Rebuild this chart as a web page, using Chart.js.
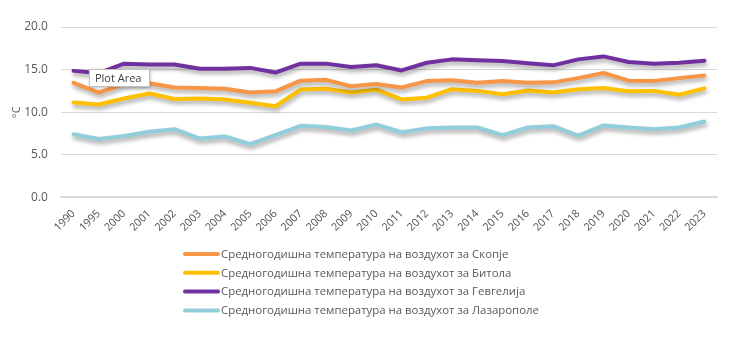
<!DOCTYPE html>
<html>
<head>
<meta charset="utf-8">
<script src="https://cdn.jsdelivr.net/npm/chart.js@4/dist/chart.umd.min.js"></script>
<style>
  html, body { margin: 0; padding: 0; background: #fff; }
  #wrap { width: 738px; height: 352px; position: relative; }
</style>
</head>
<body>
<div id="wrap"><canvas id="c" width="738" height="352"></canvas></div>
<script>
const years = ['1990','1995','2000','2001','2002','2003','2004','2005','2006','2007','2008','2009','2010','2011','2012','2013','2014','2015','2016','2017','2018','2019','2020','2021','2022','2023'];

const skopje = [13.45,12.3,13.3,13.4,12.9,12.85,12.75,12.3,12.45,13.7,13.8,13.05,13.3,12.9,13.65,13.75,13.45,13.65,13.45,13.5,14.0,14.6,13.7,13.65,14.0,14.3];
const bitola = [11.15,10.9,11.6,12.2,11.55,11.6,11.5,11.1,10.7,12.65,12.75,12.3,12.65,11.5,11.7,12.7,12.5,12.1,12.55,12.3,12.7,12.85,12.45,12.5,12.05,12.8];
const gevgelija = [14.85,14.6,15.7,15.6,15.6,15.1,15.1,15.2,14.65,15.7,15.7,15.3,15.5,14.9,15.8,16.2,16.1,16.0,15.75,15.5,16.2,16.55,15.9,15.7,15.8,16.05];
const lazaropole = [7.4,6.85,7.2,7.7,8.0,6.9,7.15,6.25,7.3,8.4,8.25,7.85,8.55,7.65,8.1,8.2,8.2,7.3,8.2,8.35,7.25,8.45,8.2,8.0,8.2,8.9];

const seriesNames = [
  'Средногодишна температура на воздухот за Скопје',
  'Средногодишна температура на воздухот за Битола',
  'Средногодишна температура на воздухот за Гевгелија',
  'Средногодишна температура на воздухот за Лазарополе'
];
const yTicks = [0, 5, 10, 15, 20];
const yTitle = '°C';
const tooltipText = 'Plot Area';

const colors = ['#F79646', '#FFC000', '#7030A0', '#92CDDC'];
const FONT = '"Open Sans", "Liberation Sans", sans-serif';
const TXT = '#595959';

const shadowPlugin = {
  id: 'shadow',
  beforeDatasetDraw(chart) {
    const ctx = chart.ctx;
    ctx.save();
    ctx.shadowColor = 'rgba(0,0,0,0.35)';
    ctx.shadowBlur = 4;
    ctx.shadowOffsetX = 1;
    ctx.shadowOffsetY = 3;
  },
  afterDatasetDraw(chart) {
    chart.ctx.restore();
  }
};

const legendPlugin = {
  id: 'customLegend',
  afterDraw(chart) {
    const ctx = chart.ctx;
    const ds = chart.data.datasets;
    const startX = 185, lineLen = 33, gap = 3, startY = 254, step = 18.8;
    ctx.save();
    ctx.font = '11.4px ' + FONT;
    ctx.textBaseline = 'middle';
    ds.forEach((d, i) => {
      const y = startY + i * step;
      ctx.strokeStyle = d.borderColor;
      ctx.lineWidth = 4;
      ctx.lineCap = 'round';
      ctx.beginPath();
      ctx.moveTo(startX, y);
      ctx.lineTo(startX + lineLen, y);
      ctx.stroke();
      ctx.fillStyle = TXT;
      ctx.fillText(d.label, startX + lineLen + gap, y + 0.5);
    });
    ctx.restore();
  }
};

const tipPlugin = {
  id: 'plotAreaTip',
  afterDraw(chart) {
    const ctx = chart.ctx;
    const a = chart.chartArea;
    const x = a.left + 28, y = a.top + 42, w = 61, h = 18;
    ctx.save();
    ctx.shadowColor = 'rgba(0,0,0,0.25)';
    ctx.shadowBlur = 3;
    ctx.shadowOffsetX = 1;
    ctx.shadowOffsetY = 1;
    ctx.fillStyle = '#ffffff';
    ctx.fillRect(x, y, w, h);
    ctx.restore();
    ctx.save();
    ctx.strokeStyle = '#bfbfbf';
    ctx.lineWidth = 1;
    ctx.strokeRect(x + 0.5, y + 0.5, w - 1, h - 1);
    ctx.fillStyle = '#404040';
    ctx.font = '11px ' + FONT;
    ctx.textBaseline = 'middle';
    ctx.fillText(tooltipText, x + 6, y + h / 2 + 1);
    ctx.restore();
  }
};

new Chart(document.getElementById('c'), {
  type: 'line',
  data: {
    labels: years,
    datasets: [skopje, bitola, gevgelija, lazaropole].map((vals, i) => ({
      label: seriesNames[i],
      data: vals,
      borderColor: colors[i],
      backgroundColor: colors[i],
      borderWidth: 4,
      pointRadius: 0,
      tension: 0,
      borderCapStyle: 'round',
      borderJoinStyle: 'round'
    }))
  },
  options: {
    responsive: false,
    animation: false,
    events: [],
    layout: { padding: { left: 10, right: 21, top: 27, bottom: 108 } },
    plugins: {
      legend: { display: false },
      tooltip: { enabled: false }
    },
    scales: {
      x: {
        offset: true,
        grid: { display: false, drawTicks: false },
        border: { display: true, color: '#d9d9d9', width: 2 },
        ticks: {
          color: '#505050',
          font: { family: FONT, size: 10.8 },
          minRotation: 45,
          maxRotation: 45,
          autoSkip: false,
          padding: 10
        }
      },
      y: {
        min: 0,
        max: 20,
        afterBuildTicks(axis) { axis.ticks = yTicks.map(v => ({ value: v })); },
        grid: { color: '#d9d9d9', lineWidth: 1, drawTicks: false },
        border: { display: false },
        ticks: {
          color: TXT,
          font: { family: FONT, size: 12 },
          padding: 13,
          callback: v => Number(v).toFixed(1)
        },
        title: {
          display: true,
          text: yTitle,
          color: TXT,
          font: { family: FONT, size: 11 },
          padding: { top: 0, bottom: -12 }
        }
      }
    }
  },
  plugins: [shadowPlugin, legendPlugin, tipPlugin]
});
</script>
</body>
</html>
